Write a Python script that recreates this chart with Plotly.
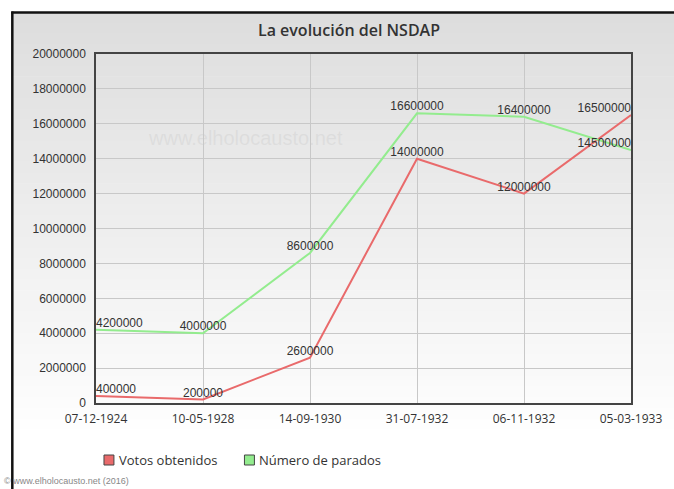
import plotly.graph_objects as go

fechas = ["07-12-1924", "10-05-1928", "14-09-1930", "31-07-1932", "06-11-1932", "05-03-1933"]
votos = [400000, 200000, 2600000, 14000000, 12000000, 16500000]
parados = [4200000, 4000000, 8600000, 16600000, 16400000, 14500000]
y_ticks = list(range(0, 20000001, 2000000))
series_names = ["Votos obtenidos", "Número de parados"]

W, H = 674, 489
L, R, T, B = 96, 674 - 633, 54, 489 - 403
pw, ph = W - L - R, H - T - B

def px_x(p):
    return (p - L) / pw

def px_y(p):
    return (H - B - p) / ph

RED = "#e96a6b"
GREEN = "#93ec8e"

positions = ["top right"] + ["top center"] * 4 + ["top left"]

fig = go.Figure()
for vals, col, name in [(votos, RED, series_names[0]), (parados, GREEN, series_names[1])]:
    fig.add_trace(go.Scatter(
        x=fechas, y=vals, mode="lines+text", text=[str(v) for v in vals], name=name,
        textposition=positions, line=dict(color=col, width=2),
        textfont=dict(family="Liberation Sans, Arial", size=12, color="#333"),
        showlegend=False, hoverinfo="skip", cliponaxis=False))

shapes = []
# background gradient inside the frame
top_px, bot_px = 12, 440
n = 40
c0, c1 = 221, 255
for i in range(n):
    y0p = top_px + (bot_px - top_px) * i / n
    y1p = top_px + (bot_px - top_px) * (i + 1) / n + 0.6
    c = int(round(c0 + (c1 - c0) * (i + 0.5) / n))
    shapes.append(dict(type="rect", xref="paper", yref="paper", layer="below",
                       x0=px_x(12), x1=px_x(W + 5), y0=px_y(y1p), y1=px_y(y0p),
                       fillcolor=f"rgb({c},{c},{c})", line=dict(width=0)))
# frame lines
shapes.append(dict(type="line", xref="paper", yref="paper", x0=px_x(12), x1=px_x(12),
                   y0=px_y(H + 5), y1=px_y(11.5), line=dict(color="#111", width=2.5)))
shapes.append(dict(type="line", xref="paper", yref="paper", x0=px_x(11), x1=px_x(W + 5),
                   y0=px_y(12.5), y1=px_y(12.5), line=dict(color="#111", width=2.5)))

annotations = [
    dict(text="www.elholocausto.net", xref="paper", yref="paper", x=px_x(246), y=px_y(138),
         xanchor="center", yanchor="middle",
         showarrow=False, font=dict(family="Liberation Sans, Arial", size=20, color="rgba(200,200,200,0.35)")),
    dict(text="© www.elholocausto.net (2016)", xref="paper", yref="paper", x=px_x(2), y=px_y(481),
         xanchor="left", yanchor="middle", showarrow=False,
         font=dict(family="Liberation Sans, Arial", size=9, color="#888")),
]

# legend built from squares + labels
legend_items = [(104, RED, series_names[0]), (245, GREEN, series_names[1])]
for x0, col, name in legend_items:
    shapes.append(dict(type="rect", xref="paper", yref="paper",
                       x0=px_x(x0), x1=px_x(x0 + 10), y0=px_y(465), y1=px_y(455),
                       fillcolor=col, line=dict(color="#444", width=1)))
    annotations.append(dict(text=name, xref="paper", yref="paper", x=px_x(x0 + 13), y=px_y(460),
                            xanchor="left", yanchor="middle", showarrow=False,
                            font=dict(family="Open Sans", size=13, color="#333")))

fig.update_layout(
    width=W, height=H,
    margin=dict(l=L, r=R, t=T, b=B),
    paper_bgcolor="white", plot_bgcolor="rgba(0,0,0,0)",
    title=dict(text="La evolución del NSDAP", x=349 / W, xref="container", xanchor="center",
               y=1 - 30 / H, yref="container", yanchor="middle",
               font=dict(family="Open Sans", size=16, color="#333", weight=600)),
    xaxis=dict(type="category", range=[0, 5], showgrid=True, gridcolor="#c8c8c8", gridwidth=1,
               showline=True, linecolor="#444", linewidth=1.5, mirror=True, ticks="",
               ticklabelstandoff=4,
               tickfont=dict(family="Open Sans", size=12, color="#333"), zeroline=False),
    yaxis=dict(range=[0, 20000000], tickvals=y_ticks, tickformat="d", showgrid=True,
               gridcolor="#c8c8c8", gridwidth=1, showline=True, linecolor="#444", linewidth=1.5,
               mirror=True, ticks="", ticklabelstandoff=6, zeroline=False,
               tickfont=dict(family="Liberation Sans, Arial", size=12, color="#333")),
    showlegend=False,
    shapes=shapes, annotations=annotations, hovermode=False,
)

fig.write_html("out.html", config={"displayModeBar": False},
               post_script="document.body.style.margin='0';document.body.style.padding='0';")
